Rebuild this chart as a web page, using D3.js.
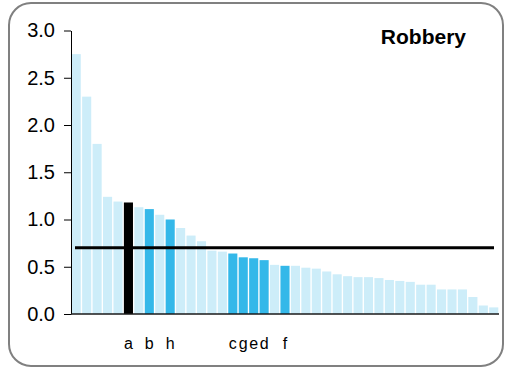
<!DOCTYPE html>
<html>
<head>
<meta charset="utf-8">
<script src="https://cdn.jsdelivr.net/npm/d3@7"></script>
<style>
  body { margin: 0; background: #fff; }
  text { font-family: "Liberation Sans", Arial, sans-serif; }
</style>
</head>
<body>
<script>
// bar values, sorted from largest to smallest
var values = [2.75, 2.30, 1.80, 1.24, 1.19, 1.18, 1.13, 1.11, 1.05, 1.00,
              0.91, 0.83, 0.77, 0.67, 0.66, 0.64, 0.60, 0.59, 0.57, 0.52,
              0.51, 0.51, 0.49, 0.48, 0.45, 0.42, 0.40, 0.39, 0.39, 0.38,
              0.36, 0.35, 0.34, 0.31, 0.31, 0.26, 0.26, 0.26, 0.18, 0.09, 0.07];
// labels under highlighted bars ("" = no label)
var labels = ["", "", "", "", "", "a", "", "b", "", "h",
              "", "", "", "", "", "c", "g", "e", "d", "", "f"];
// highlight kind: 2 = black, 1 = blue, 0 = plain
var kinds = [0, 0, 0, 0, 0, 2, 0, 1, 0, 1,
             0, 0, 0, 0, 0, 1, 1, 1, 1, 0, 1];
var yTicks = [0, 0.5, 1.0, 1.5, 2.0, 2.5, 3.0];
var average = 0.70;
var title = "Robbery";

var w = 505, h = 369;
var colors = ["#cdedf9", "#34b8e9", "#000000"];

var svg = d3.select("body").append("svg")
    .attr("width", w)
    .attr("height", h);

//rounded frame
svg.append("rect")
    .attr("x", 9).attr("y", 3)
    .attr("width", 494).attr("height", 363)
    .attr("rx", 22).attr("ry", 22)
    .style("fill", "#fff")
    .style("stroke", "#808080")
    .style("stroke-width", 2);

var x = d3.scaleBand()
    .domain(d3.range(values.length))
    .range([71.5, 498.5])
    .paddingInner(0.13)
    .paddingOuter(0.02);

var y = d3.scaleLinear()
    .domain([0, 3])
    .range([314, 30.5]);

//bars
svg.selectAll(".bar")
    .data(values)
    .enter()
    .append("rect")
    .attr("class", "bar")
    .attr("x", function(d, i){ return x(i); })
    .attr("y", function(d){ return y(d); })
    .attr("width", x.bandwidth())
    .attr("height", function(d){ return y(0) - y(d); })
    .style("fill", function(d, i){ return colors[kinds[i] || 0]; });

//y axis
var yAxis = svg.append("g")
    .attr("transform", "translate(71,0)")
    .call(d3.axisLeft(y)
        .tickValues(yTicks)
        .tickFormat(d3.format(".1f"))
        .tickSize(7)
        .tickSizeOuter(0)
        .tickPadding(9));
yAxis.select(".domain").style("stroke", "#000");
yAxis.selectAll(".tick line").style("stroke", "#000");
yAxis.selectAll("text")
    .style("font-size", "20px")
    .style("fill", "#000");

//x baseline
svg.append("line")
    .attr("x1", 71).attr("x2", 499)
    .attr("y1", y(0)).attr("y2", y(0))
    .style("stroke", "#1a1a1a")
    .style("stroke-width", 1.5);

//average line
svg.append("line")
    .attr("x1", 75).attr("x2", 494)
    .attr("y1", y(average)).attr("y2", y(average))
    .style("stroke", "#000")
    .style("stroke-width", 3);

//bar labels
svg.selectAll(".lbl")
    .data(labels)
    .enter()
    .append("text")
    .attr("class", "lbl")
    .attr("x", function(d, i){ return x(i) + x.bandwidth() / 2; })
    .attr("y", 349)
    .attr("text-anchor", "middle")
    .style("font-size", "16px")
    .text(function(d){ return d; });

//title
svg.append("text")
    .attr("x", 466)
    .attr("y", 44)
    .attr("text-anchor", "end")
    .style("font-size", "21px")
    .style("font-weight", "bold")
    .text(title);
</script>
</body>
</html>
